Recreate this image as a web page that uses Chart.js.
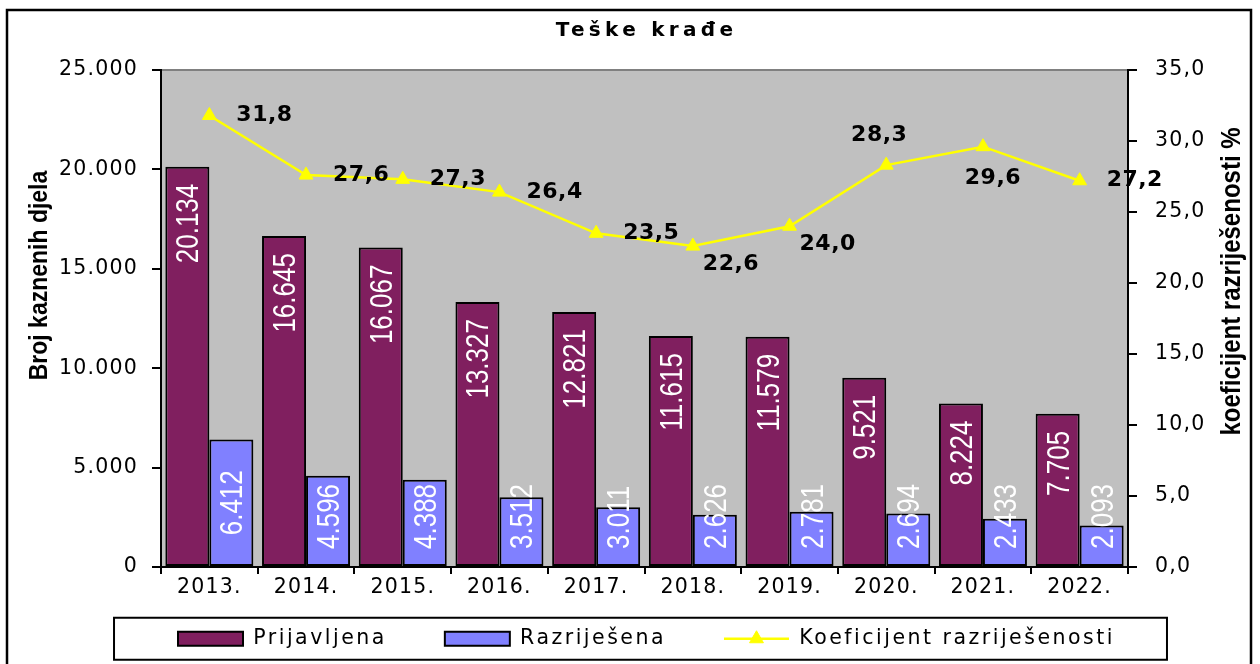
<!DOCTYPE html>
<html>
<head>
<meta charset="utf-8">
<script src="https://cdn.jsdelivr.net/npm/chart.js@4.4.1/dist/chart.umd.min.js"></script>
<style>
html,body{margin:0;padding:0;background:#fff;}
#wrap{width:1260px;height:664px;position:relative;overflow:hidden;}
canvas{display:block;}
</style>
</head>
<body>
<div id="wrap"><canvas id="c" width="1260" height="664"></canvas></div>
<script>
// ---- data ----
const chartTitle = 'Teške krađe';
const categories = ['2013.','2014.','2015.','2016.','2017.','2018.','2019.','2020.','2021.','2022.'];
const prijavljena = [20134,16645,16067,13327,12821,11615,11579,9521,8224,7705];
const razrijesena = [6412,4596,4388,3512,3011,2626,2781,2694,2433,2093];
const koeficijent = [31.8,27.6,27.3,26.4,23.5,22.6,24.0,28.3,29.6,27.2];
const seriesNames = ['Prijavljena','Razriješena','Koeficijent razriješenosti'];
const leftTickLabels = ['0','5.000','10.000','15.000','20.000','25.000'];
const rightTickLabels = ['0,0','5,0','10,0','15,0','20,0','25,0','30,0','35,0'];
const leftAxisTitle = 'Broj kaznenih djela';
const rightAxisTitle = 'koeficijent razriješenosti %';
const lineLabelPlacement = ['right','right','right','right','right','belowRight','belowRight','above','below','right'];

// ---- style ----
const F = "'DejaVu Sans', 'Liberation Sans', Arial, sans-serif";
const FA = "'Liberation Sans', Arial, Helvetica, sans-serif";
const MAROON = '#801F5F';
const BLUE = '#8080FF';
const YELLOW = '#FFFF00';
const PLOT_BG = '#C0C0C0';
const TICK_SPACING = '1.2px';
const LEGEND_SPACING = '2.5px';
const TITLE_SPACING = '4.3px';
const LEGEND_PAD = 58;
const LEGEND_SHIFT = 30.5;

const fmtThousands = v => String(v).replace(/\B(?=(\d{3})+(?!\d))/g, '.');
const fmtDec = v => v.toFixed(1).replace('.', ',');

const basePlugin = {
  id: 'basePlugin',
  beforeUpdate(c) {
    c.ctx.letterSpacing = TICK_SPACING;
    const lg = c.legend;
    if (lg && !lg.__patched) {
      const of = lg.fit.bind(lg), od = lg.draw.bind(lg);
      lg.fit = function() {
        const ctx = c.ctx, prev = ctx.letterSpacing;
        ctx.letterSpacing = LEGEND_SPACING;
        of();
        ctx.letterSpacing = prev;
      };
      lg.draw = function(area) {
        const ctx = c.ctx;
        ctx.save();
        ctx.letterSpacing = LEGEND_SPACING;
        od(area);
        ctx.restore();
      };
      lg.__patched = true;
    }
  },
  beforeLayout(c) { c.ctx.letterSpacing = TICK_SPACING; },
  afterLayout(c) {
    const tb = c.titleBlock;
    if (tb && !tb.__patched) {
      const orig = tb.draw.bind(tb);
      tb.draw = function(area) {
        const ctx = c.ctx;
        ctx.save();
        ctx.letterSpacing = TITLE_SPACING;
        orig(area);
        ctx.restore();
      };
      tb.__patched = true;
    }
    if (c.legend) {
      c.legend.top -= LEGEND_SHIFT;
    }
  },
  beforeDraw(c) {
    const {ctx, chartArea: a} = c;
    ctx.letterSpacing = TICK_SPACING;
    ctx.save();
    ctx.fillStyle = '#fff';
    ctx.fillRect(0, 0, c.width, c.height);
    ctx.fillStyle = PLOT_BG;
    ctx.fillRect(a.left, a.top, a.right - a.left, a.bottom - a.top);
    ctx.strokeStyle = '#808080';
    ctx.lineWidth = 2;
    ctx.beginPath();
    ctx.moveTo(a.left, a.top);
    ctx.lineTo(a.right, a.top);
    ctx.stroke();
    ctx.restore();
  }
};

const barLabelPlugin = {
  id: 'barLabels',
  afterDatasetDraw(c, args) {
    const ds = c.data.datasets[args.index];
    if (ds.type === 'line') return;
    const ctx = c.ctx;
    const fs = 26, sy = 1.18;
    ctx.save();
    ctx.letterSpacing = '0px';
    ctx.font = `${fs}px ${FA}`;
    ctx.fillStyle = '#fff';
    ctx.textBaseline = 'alphabetic';
    args.meta.data.forEach((el, i) => {
      const p = el.getProps(['x', 'y', 'base'], true);
      const txt = fmtThousands(ds.data[i]);
      const len = ctx.measureText(txt).width;
      let ay, align;
      if (args.index === 0) {
        ay = p.y + 17;
        align = 'right';
      } else {
        ay = Math.min((p.y + p.base) / 2, p.base - 17 - len / 2);
        align = 'center';
      }
      ctx.save();
      ctx.translate(p.x, ay);
      ctx.rotate(-Math.PI / 2);
      ctx.scale(1, sy);
      ctx.textAlign = align;
      ctx.fillText(txt, 0, 0.36 * fs);
      ctx.restore();
    });
    ctx.restore();
  }
};

const lineLabelPlugin = {
  id: 'lineLabels',
  afterDatasetsDraw(c) {
    const idx = c.data.datasets.findIndex(d => d.type === 'line');
    const meta = c.getDatasetMeta(idx);
    const ctx = c.ctx;
    ctx.save();
    ctx.letterSpacing = '0.5px';
    ctx.font = `bold 22px ${F}`;
    ctx.fillStyle = '#000';
    ctx.textBaseline = 'middle';
    meta.data.forEach((pt, i) => {
      const {x, y} = pt.getProps(['x', 'y'], true);
      const txt = fmtDec(c.data.datasets[idx].data[i]);
      const pos = lineLabelPlacement[i];
      let tx = x, ty = y, al = 'left';
      if (pos === 'right') { tx = x + 27; }
      else if (pos === 'belowRight') { tx = x + 10; ty = y + 18; }
      else if (pos === 'above') { tx = x - 7; ty = y - 30; al = 'center'; }
      else if (pos === 'below') { tx = x + 10; ty = y + 32; al = 'center'; }
      ctx.textAlign = al;
      ctx.fillText(txt, tx, ty);
    });
    ctx.restore();
  }
};

const decorPlugin = {
  id: 'decor',
  afterDraw(c) {
    const ctx = c.ctx, a = c.chartArea;
    ctx.save();
    const drawRot = (text, x, y, fs, sy) => {
      ctx.save();
      ctx.translate(x, y);
      ctx.rotate(-Math.PI / 2);
      ctx.scale(1, sy);
      ctx.letterSpacing = '0px';
      ctx.font = `bold ${fs}px ${FA}`;
      ctx.textAlign = 'center';
      ctx.textBaseline = 'middle';
      ctx.fillStyle = '#000';
      ctx.fillText(text, 0, 0);
      ctx.restore();
    };
    const midY = (a.top + a.bottom) / 2;
    drawRot(leftAxisTitle, a.left - 121, midY - 43, 23, 1.15);
    drawRot(rightAxisTitle, a.right + 104, midY - 37, 24, 1.15);

    const lg = c.legend;
    if (lg && lg.legendHitBoxes && lg.legendHitBoxes.length) {
      const hb = lg.legendHitBoxes;
      const first = hb[0], last = hb[hb.length - 1];
      const cy = first.top + first.height / 2;
      const l = first.left - 64, r = last.left + last.width + 52;
      ctx.strokeStyle = '#000';
      ctx.lineWidth = 2;
      ctx.strokeRect(l, cy - 21, r - l, 42);
      const li = c.data.datasets.findIndex(d => d.type === 'line');
      const k = lg.legendItems.findIndex(it => it.datasetIndex === li);
      if (k >= 0) {
        const h = hb[k];
        const bw = c.options.plugins.legend.labels.boxWidth;
        ctx.strokeStyle = YELLOW;
        ctx.lineWidth = 2.5;
        ctx.beginPath();
        ctx.moveTo(h.left, cy);
        ctx.lineTo(h.left + bw, cy);
        ctx.stroke();
        ctx.fillStyle = YELLOW;
        ctx.lineWidth = 1;
        Chart.helpers.drawPoint(ctx, {pointStyle: 'triangle', radius: 8, borderWidth: 1, rotation: 0}, h.left + bw / 2, cy);
      }
    }
    ctx.strokeStyle = '#000';
    ctx.lineWidth = 2.5;
    ctx.strokeRect(7, 10, 1244, 680);
    ctx.restore();
  }
};

const tickFont = {family: F, size: 20.5};

const chart = new Chart(document.getElementById('c'), {
  type: 'bar',
  data: {
    labels: categories,
    datasets: [
      {label: seriesNames[0], data: prijavljena, backgroundColor: MAROON, borderColor: '#000', borderWidth: 2, borderSkipped: false, yAxisID: 'y', order: 2, categoryPercentage: 0.91, barPercentage: 1},
      {label: seriesNames[1], data: razrijesena, backgroundColor: BLUE, borderColor: '#000', borderWidth: 2, borderSkipped: false, yAxisID: 'y', order: 2, categoryPercentage: 0.91, barPercentage: 1},
      {type: 'line', label: seriesNames[2], data: koeficijent, yAxisID: 'y1', order: 1, borderColor: YELLOW, backgroundColor: YELLOW, borderWidth: 2.5, tension: 0, pointStyle: 'triangle', pointRadius: 8, pointBackgroundColor: YELLOW, pointBorderColor: YELLOW, pointBorderWidth: 1}
    ]
  },
  options: {
    responsive: false,
    animation: false,
    devicePixelRatio: 1,
    layout: {padding: {left: 33, right: 0, top: 0, bottom: 5}},
    plugins: {
      tooltip: {enabled: false},
      title: {display: true, text: chartTitle, color: '#000', font: {family: F, size: 20, weight: 'bold'}, padding: {top: 19, bottom: 27}},
      legend: {
        position: 'bottom',
        maxHeight: 58,
        labels: {
          font: {family: F, size: 20.5},
          color: '#000',
          boxWidth: 65,
          boxHeight: 14,
          padding: LEGEND_PAD,
          sort: (a, b) => a.datasetIndex - b.datasetIndex,
          generateLabels(ch) {
            const items = Chart.defaults.plugins.legend.labels.generateLabels(ch);
            items.forEach(it => {
              if (ch.data.datasets[it.datasetIndex].type === 'line') {
                it.fillStyle = 'rgba(0,0,0,0)';
                it.strokeStyle = 'rgba(0,0,0,0)';
                it.lineWidth = 0;
              } else {
                it.strokeStyle = '#000';
                it.lineWidth = 2;
              }
            });
            return items;
          }
        }
      }
    },
    scales: {
      x: {
        grid: {offset: true, drawOnChartArea: false, drawTicks: true, tickLength: 7, color: '#000', lineWidth: 2},
        border: {color: '#000', width: 2},
        ticks: {font: tickFont, color: '#000', padding: 1, maxRotation: 0, autoSkip: false},
        afterFit(s) { s.height = 34; }
      },
      y: {
        position: 'left',
        min: 0, max: 25000,
        grid: {drawOnChartArea: false, drawTicks: true, tickLength: 9, color: '#000', lineWidth: 2},
        border: {color: '#000', width: 2},
        ticks: {stepSize: 5000, font: tickFont, color: '#000', padding: 14, callback: (v, i) => leftTickLabels[i]},
        afterFit(s) { s.width = 128; }
      },
      y1: {
        position: 'right',
        min: 0, max: 35,
        grid: {drawOnChartArea: false, drawTicks: true, tickLength: 9, color: '#000', lineWidth: 2},
        border: {color: '#000', width: 2},
        ticks: {stepSize: 5, font: tickFont, color: '#000', padding: 18, callback: (v, i) => rightTickLabels[i]},
        afterFit(s) { s.width = 132; }
      }
    }
  },
  plugins: [basePlugin, barLabelPlugin, lineLabelPlugin, decorPlugin]
});
</script>
</body>
</html>
